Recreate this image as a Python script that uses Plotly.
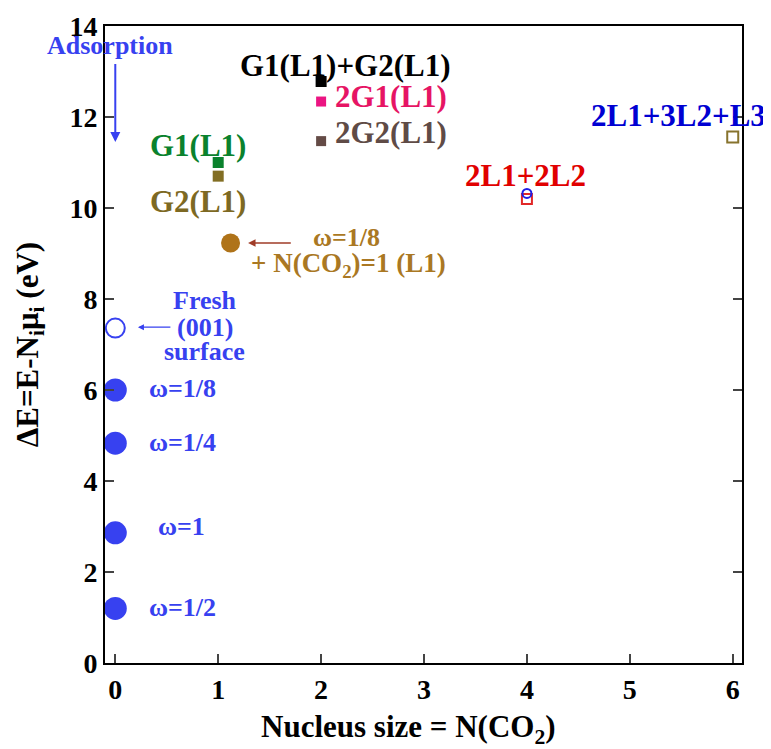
import plotly.graph_objects as go

# ---- data ----
omega_labels = ["ω=1/8", "ω=1/4", "ω=1", "ω=1/2"]
omega_x = [0, 0, 0, 0]
omega_y = [6.0, 4.83, 2.86, 1.2]

fresh_x = [0]
fresh_y = [7.36]

w18_x = [1.12]
w18_y = [9.23]

g1_x, g1_y = [1], [11.0]
g2_x, g2_y = [1], [10.7]
g1g2_x, g1g2_y = [2], [12.78]
twog1_x, twog1_y = [2], [12.34]
twog2_x, twog2_y = [2], [11.47]
l12_circ_x, l12_circ_y = [4], [10.32]
l12_sq_x, l12_sq_y = [4], [10.2]
l123_x, l123_y = [6], [11.56]

FONT = "Times New Roman, Liberation Serif, serif"
BLUE = "rgb(55,65,240)"

fig = go.Figure()

def add(x, y, symbol, size, color, line_color=None, lw=0):
    fig.add_trace(go.Scatter(
        x=x, y=y, mode="markers", showlegend=False,
        marker=dict(symbol=symbol, size=size, color=color,
                    line=dict(color=line_color or color, width=lw)),
        cliponaxis=False))

add(omega_x, omega_y, "circle", 23, BLUE)
add(fresh_x, fresh_y, "circle-open", 19, BLUE, BLUE, 2)
add(w18_x, w18_y, "circle", 19, "rgb(175,115,25)")
add(g1_x, g1_y, "square", 11, "rgb(10,130,45)")
add(g2_x, g2_y, "square", 11, "rgb(130,110,35)")
add(g1g2_x, g1g2_y, "square", 11, "black")
add(twog1_x, twog1_y, "square", 10, "rgb(235,20,130)")
add(twog2_x, twog2_y, "square", 10, "rgb(100,75,70)")
add(l12_sq_x, l12_sq_y, "square-open", 10, "rgb(225,40,40)", "rgb(225,40,40)", 2)
add(l12_circ_x, l12_circ_y, "circle-open", 9, "rgb(30,30,230)", "rgb(30,30,230)", 2)
add(l123_x, l123_y, "square-open", 11, "rgb(135,115,45)", "rgb(135,115,45)", 2)

def txt(x, y, s, color, size=26):
    fig.add_annotation(x=x, y=y, text="<b>" + s + "</b>", showarrow=False, xref="x", yref="y",
                       font=dict(family=FONT, size=size, color=color),
                       xanchor="center", yanchor="middle")

def arrow(x0, y0, x1, y1, color, width):
    fig.add_annotation(x=x1, y=y1, ax=x0, ay=y0, xref="x", yref="y", axref="x", ayref="y",
                       text="", showarrow=True, arrowhead=2, arrowsize=1, arrowwidth=width,
                       arrowcolor=color)

txt(-0.05, 13.58, "Adsorption", BLUE, 26)
arrow(0, 13.2, 0, 11.45, BLUE, 2)
txt(2.24, 13.14, "G1(L1)+G2(L1)", "black", 31)
txt(2.68, 12.44, "2G1(L1)", "rgb(230,20,100)", 31)
txt(2.68, 11.67, "2G2(L1)", "rgb(95,75,70)", 31)
txt(0.80, 11.38, "G1(L1)", "rgb(10,130,45)", 31)
txt(0.80, 10.15, "G2(L1)", "rgb(125,105,35)", 31)
txt(2.25, 9.36, "ω=1/8", "rgb(170,120,35)", 26)
txt(2.27, 8.75, "+ N(CO<sub>2</sub>)=1 (L1)", "rgb(170,120,35)", 27)
arrow(1.72, 9.23, 1.29, 9.23, "rgb(160,60,40)", 1.5)
txt(3.99, 10.72, "2L1+2L2", "rgb(225,0,0)", 31)
txt(5.47, 12.04, "2L1+3L2+L3", "rgb(0,0,210)", 31)
txt(0.87, 7.96, "Fresh", BLUE, 26)
txt(0.87, 7.38, "(001)", BLUE, 26)
txt(0.87, 6.84, "surface", BLUE, 26)
arrow(0.55, 7.38, 0.22, 7.38, BLUE, 1.2)
label_x = [0.65, 0.65, 0.64, 0.65]
label_y = [6.04, 4.84, 2.99, 1.21]
for lx, ly, s in zip(label_x, label_y, omega_labels):
    txt(lx, ly, s, BLUE, 26)

tick_font = dict(family=FONT, size=28, color="black")
title_font = dict(family=FONT, size=31, color="black")

fig.add_annotation(x=0.477, y=0, xref="paper", yref="paper", yshift=-66,
                   text="<b>Nucleus size = N(CO<sub>2</sub>)</b>", showarrow=False,
                   font=title_font, xanchor="center", yanchor="middle")

fig.update_layout(
    width=763, height=741,
    margin=dict(l=97, r=29, t=18, b=86),
    plot_bgcolor="white", paper_bgcolor="white",
    xaxis=dict(range=[-0.1, 6.09], dtick=1, tick0=0, ticks="inside", ticklen=9, tickwidth=2,
               showline=True, linewidth=2, linecolor="black", mirror=True,
               showgrid=False, zeroline=False, tickfont=tick_font,
               tickprefix="<b>", ticksuffix="</b>", automargin=False),
    yaxis=dict(range=[0, 14], dtick=2, tick0=0, ticks="inside", ticklen=9, tickwidth=2,
               showline=True, linewidth=2, linecolor="black", mirror="ticks",
               showgrid=False, zeroline=False, tickfont=tick_font,
               tickprefix="<b>", ticksuffix="</b>", automargin=False,
               title=dict(text="<b>ΔE=E-N<sub>i</sub>μ<sub>i</sub> (eV)</b>", font=title_font, standoff=22)),
)

fig.write_html("out.html")
